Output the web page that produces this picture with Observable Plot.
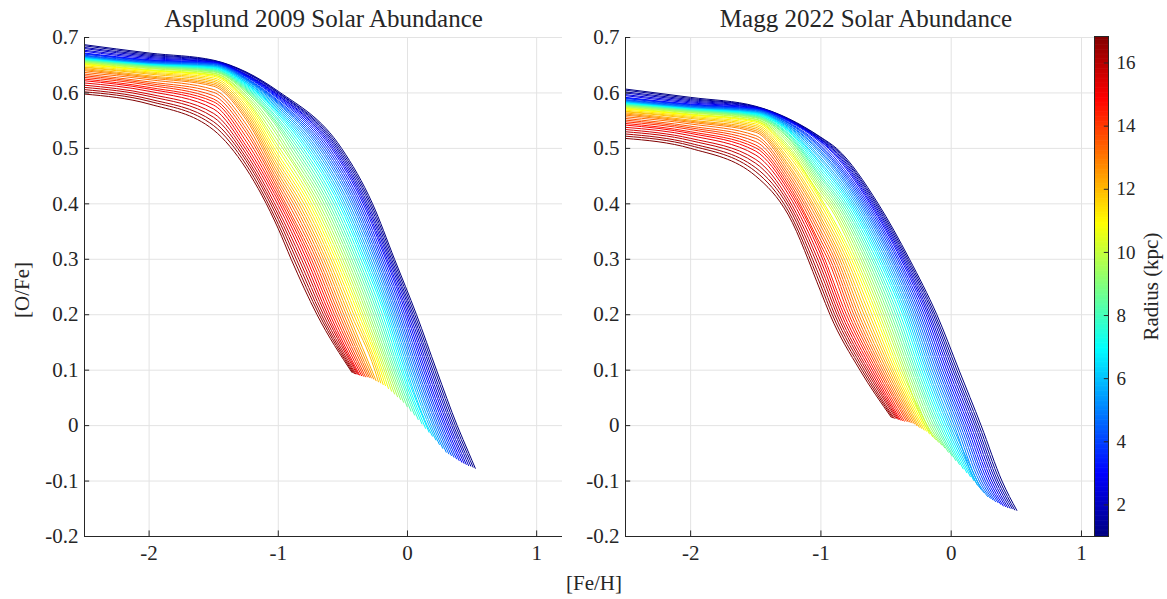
<!DOCTYPE html>
<html>
<head>
<meta charset="utf-8">
<script src="https://cdn.jsdelivr.net/npm/d3@7"></script>
<script src="https://cdn.jsdelivr.net/npm/@observablehq/plot@0.6"></script>
<style>
  body { margin: 0; background: #fff; }
  #wrap { position: relative; width: 1167px; height: 599px; overflow: hidden; font-family: "Liberation Serif", serif; color: #262626; }
  #wrap svg { position: absolute; top: 0; }
  #wrap svg text { font-family: "Liberation Serif", serif !important; }
  #xlab { position: absolute; left: 494px; width: 200px; top: 571px; text-align: center; font-size: 21px; font-family: "Liberation Serif", serif; }
</style>
</head>
<body>
<div id="wrap"><div id="xlab">[Fe/H]</div></div>
<script>
// ---------- data ----------
const radius = [1.00,1.33,1.66,1.99,2.32,2.65,2.98,3.31,3.64,3.97,4.30,4.63,4.96,5.29,5.62,5.95,6.28,6.61,6.94,7.27,7.60,7.93,8.26,8.59,8.92,9.25,9.58,9.91,10.24,10.57,10.90,11.23,11.56,11.89,12.22,12.55,12.88,13.21,13.54,13.87,14.20,14.53,14.86,15.19,15.52,15.85,16.18,16.51,16.84];

const xTicks = [-2, -1, 0, 1];
const yTicks = [-0.2, -0.1, 0, 0.1, 0.2, 0.3, 0.4, 0.5, 0.6, 0.7];
const cbTicks = [2, 4, 6, 8, 10, 12, 14, 16];
const titles = ["Asplund 2009 Solar Abundance", "Magg 2022 Solar Abundance"];

// Asplund 2009 panel: [O/Fe] at [Fe/H] = -2.5, -2, -1.5, -1.25, -1
const a09Y25 = [0.687,0.685,0.682,0.680,0.677,0.675,0.672,0.671,0.670,0.668,0.667,0.666,0.665,0.664,0.664,0.663,0.662,0.662,0.661,0.660,0.660,0.659,0.658,0.658,0.657,0.656,0.655,0.654,0.653,0.652,0.651,0.649,0.647,0.646,0.644,0.642,0.640,0.637,0.634,0.631,0.628,0.625,0.622,0.618,0.614,0.610,0.606,0.602,0.598];
const a09Y20 = [0.672,0.670,0.668,0.666,0.664,0.662,0.660,0.659,0.658,0.657,0.656,0.655,0.654,0.653,0.653,0.652,0.652,0.651,0.651,0.650,0.650,0.649,0.648,0.648,0.647,0.646,0.645,0.644,0.642,0.641,0.640,0.638,0.636,0.634,0.631,0.629,0.627,0.624,0.620,0.617,0.614,0.610,0.607,0.603,0.598,0.594,0.589,0.585,0.580];
const a09Y15 = [0.659,0.658,0.658,0.657,0.656,0.656,0.655,0.654,0.653,0.653,0.652,0.651,0.650,0.649,0.648,0.648,0.647,0.646,0.645,0.644,0.643,0.642,0.641,0.640,0.639,0.638,0.636,0.635,0.633,0.632,0.630,0.627,0.624,0.621,0.618,0.615,0.612,0.606,0.601,0.595,0.589,0.584,0.578,0.571,0.563,0.556,0.548,0.541,0.533];
const a09Y125 = [0.638,0.637,0.636,0.634,0.633,0.632,0.631,0.630,0.629,0.627,0.626,0.625,0.624,0.623,0.621,0.620,0.618,0.617,0.615,0.613,0.611,0.609,0.607,0.605,0.603,0.600,0.596,0.593,0.589,0.586,0.582,0.577,0.572,0.567,0.562,0.557,0.552,0.544,0.536,0.529,0.521,0.513,0.505,0.498,0.491,0.484,0.478,0.471,0.464];
const a09Y100 = [0.603,0.601,0.600,0.598,0.596,0.595,0.593,0.591,0.589,0.586,0.584,0.582,0.580,0.577,0.574,0.571,0.568,0.565,0.562,0.558,0.553,0.549,0.544,0.540,0.535,0.527,0.520,0.512,0.504,0.497,0.489,0.482,0.475,0.468,0.461,0.454,0.447,0.440,0.433,0.426,0.419,0.412,0.405,0.397,0.388,0.380,0.372,0.363,0.355];
// [Fe/H] where each track crosses [O/Fe] = 0.5, 0.4, 0.3, 0.2, 0.1, 0, -0.05
const a09X50 = [-0.510,-0.523,-0.536,-0.548,-0.561,-0.574,-0.587,-0.603,-0.619,-0.635,-0.651,-0.667,-0.683,-0.701,-0.718,-0.736,-0.753,-0.771,-0.788,-0.808,-0.827,-0.847,-0.867,-0.886,-0.906,-0.927,-0.947,-0.968,-0.988,-1.009,-1.029,-1.050,-1.071,-1.093,-1.114,-1.135,-1.156,-1.177,-1.199,-1.220,-1.241,-1.263,-1.284,-1.307,-1.329,-1.352,-1.375,-1.397,-1.420];
const a09X40 = [-0.270,-0.282,-0.294,-0.307,-0.319,-0.331,-0.343,-0.358,-0.373,-0.388,-0.403,-0.418,-0.433,-0.450,-0.466,-0.483,-0.499,-0.516,-0.532,-0.551,-0.569,-0.588,-0.607,-0.625,-0.644,-0.663,-0.683,-0.702,-0.721,-0.741,-0.760,-0.780,-0.800,-0.821,-0.841,-0.861,-0.881,-0.901,-0.921,-0.941,-0.961,-0.981,-1.001,-1.023,-1.044,-1.066,-1.087,-1.109,-1.130];
const a09X30 = [-0.100,-0.111,-0.123,-0.134,-0.145,-0.157,-0.168,-0.182,-0.196,-0.210,-0.224,-0.238,-0.252,-0.267,-0.283,-0.298,-0.313,-0.329,-0.344,-0.361,-0.379,-0.396,-0.413,-0.431,-0.448,-0.466,-0.484,-0.502,-0.520,-0.538,-0.556,-0.575,-0.593,-0.612,-0.631,-0.649,-0.668,-0.687,-0.705,-0.724,-0.743,-0.761,-0.780,-0.800,-0.820,-0.840,-0.860,-0.880,-0.900];
const a09X20 = [0.070,0.057,0.044,0.032,0.019,0.006,-0.007,-0.021,-0.035,-0.050,-0.064,-0.078,-0.092,-0.106,-0.120,-0.134,-0.148,-0.162,-0.176,-0.193,-0.210,-0.226,-0.243,-0.260,-0.277,-0.294,-0.310,-0.327,-0.344,-0.360,-0.377,-0.396,-0.415,-0.435,-0.454,-0.473,-0.492,-0.510,-0.528,-0.546,-0.564,-0.582,-0.600,-0.617,-0.633,-0.650,-0.667,-0.683,-0.700];
const a09X10 = [0.225,0.211,0.196,0.182,0.167,0.153,0.138,0.124,0.109,0.095,0.080,0.066,0.051,0.037,0.022,0.008,-0.007,-0.021,-0.036,-0.050,-0.065,-0.079,-0.094,-0.108,-0.123,-0.137,-0.151,-0.166,-0.180,-0.195,-0.209,-0.224,-0.238,-0.253,null,null,null,null,null,null,null,null,null,null,null,null,null,null,null];
const a09X00 = [0.385,0.371,0.356,0.342,0.327,0.313,0.298,0.284,0.269,0.255,0.240,0.226,0.211,0.197,0.182,0.168,0.153,null,null,null,null,null,null,null,null,null,null,null,null,null,null,null,null,null,null,null,null,null,null,null,null,null,null,null,null,null,null,null,null];
const a09Xm05 = [0.476,0.462,0.447,0.433,0.418,0.404,0.389,null,null,null,null,null,null,null,null,null,null,null,null,null,null,null,null,null,null,null,null,null,null,null,null,null,null,null,null,null,null,null,null,null,null,null,null,null,null,null,null,null,null];
// end point of every track
const a09EndX = [0.525,0.508,0.490,0.473,0.455,0.438,0.420,0.400,0.380,0.360,0.340,0.320,0.300,0.273,0.247,0.220,0.193,0.167,0.140,0.112,0.083,0.055,0.027,-0.002,-0.030,-0.053,-0.077,-0.100,-0.123,-0.147,-0.170,-0.188,-0.207,-0.225,-0.243,-0.262,-0.280,-0.295,-0.310,-0.325,-0.340,-0.355,-0.370,-0.380,-0.390,-0.400,-0.410,-0.420,-0.430];
const a09EndY = [-0.077,-0.075,-0.073,-0.072,-0.070,-0.068,-0.066,-0.063,-0.060,-0.057,-0.054,-0.051,-0.048,-0.041,-0.034,-0.026,-0.019,-0.012,-0.005,0.003,0.011,0.019,0.026,0.034,0.042,0.047,0.052,0.057,0.062,0.067,0.072,0.074,0.077,0.079,0.081,0.084,0.086,0.087,0.088,0.088,0.089,0.090,0.091,0.092,0.093,0.093,0.094,0.095,0.096];

// Magg 2022 panel
const m22Y25 = [0.607,0.605,0.602,0.600,0.597,0.595,0.592,0.591,0.590,0.588,0.587,0.586,0.585,0.584,0.584,0.583,0.582,0.582,0.581,0.580,0.580,0.579,0.578,0.578,0.577,0.576,0.575,0.574,0.573,0.572,0.571,0.569,0.567,0.566,0.564,0.562,0.560,0.557,0.554,0.551,0.548,0.545,0.542,0.538,0.534,0.530,0.526,0.522,0.518];
const m22Y20 = [0.592,0.590,0.588,0.586,0.584,0.582,0.580,0.579,0.578,0.577,0.576,0.575,0.574,0.573,0.573,0.572,0.572,0.571,0.571,0.570,0.570,0.569,0.568,0.568,0.567,0.566,0.565,0.564,0.562,0.561,0.560,0.558,0.556,0.554,0.551,0.549,0.547,0.544,0.540,0.537,0.534,0.530,0.527,0.523,0.518,0.514,0.509,0.505,0.500];
const m22Y15 = [0.576,0.575,0.575,0.574,0.573,0.573,0.572,0.571,0.570,0.570,0.569,0.568,0.567,0.566,0.565,0.565,0.564,0.563,0.562,0.561,0.560,0.559,0.558,0.557,0.556,0.555,0.553,0.552,0.550,0.549,0.547,0.544,0.541,0.538,0.535,0.532,0.529,0.523,0.518,0.512,0.506,0.501,0.495,0.488,0.480,0.473,0.465,0.458,0.450];
const m22Y125 = [0.554,0.553,0.553,0.552,0.551,0.551,0.550,0.549,0.547,0.546,0.545,0.543,0.542,0.540,0.539,0.537,0.535,0.534,0.532,0.530,0.527,0.525,0.523,0.520,0.518,0.514,0.510,0.505,0.501,0.497,0.493,0.488,0.482,0.477,0.471,0.466,0.460,0.454,0.448,0.442,0.436,0.430,0.424,0.417,0.409,0.402,0.395,0.387,0.380];
const m22Y100 = [0.520,0.519,0.517,0.516,0.515,0.513,0.512,0.509,0.505,0.502,0.499,0.495,0.492,0.488,0.483,0.479,0.474,0.470,0.465,0.460,0.455,0.450,0.446,0.441,0.436,0.431,0.426,0.421,0.415,0.410,0.405,0.398,0.390,0.383,0.375,0.368,0.360,0.351,0.343,0.334,0.325,0.317,0.308,0.297,0.286,0.275,0.263,0.252,0.241];
// [Fe/H] where each track crosses [O/Fe] = 0.5, 0.4, 0.3, 0.2, 0.1, 0, -0.1
const m22X50 = [-0.880,-0.891,-0.901,-0.912,-0.922,-0.933,-0.943,-0.957,-0.970,-0.984,-0.998,-1.011,-1.025,-1.040,-1.055,-1.070,-1.085,-1.100,-1.115,-1.131,-1.147,-1.164,-1.180,-1.196,-1.212,-1.229,-1.246,-1.263,-1.280,-1.297,-1.314,-1.332,-1.349,-1.367,-1.385,-1.402,-1.420,null,null,null,null,null,null,null,null,null,null,null,null];
const m22X40 = [-0.560,-0.571,-0.581,-0.592,-0.602,-0.613,-0.623,-0.636,-0.649,-0.662,-0.675,-0.688,-0.701,-0.715,-0.729,-0.744,-0.758,-0.772,-0.786,-0.802,-0.818,-0.834,-0.850,-0.866,-0.882,-0.899,-0.915,-0.932,-0.949,-0.965,-0.982,-0.999,-1.016,-1.033,-1.051,-1.068,-1.085,-1.102,-1.120,-1.137,-1.154,-1.172,-1.189,-1.208,-1.226,-1.245,-1.263,-1.282,-1.300];
const m22X30 = [-0.320,-0.331,-0.342,-0.353,-0.364,-0.375,-0.386,-0.400,-0.413,-0.427,-0.441,-0.454,-0.468,-0.483,-0.498,-0.513,-0.528,-0.543,-0.558,-0.575,-0.592,-0.608,-0.625,-0.642,-0.659,-0.677,-0.694,-0.712,-0.730,-0.747,-0.765,-0.783,-0.801,-0.820,-0.838,-0.856,-0.874,-0.892,-0.910,-0.929,-0.947,-0.965,-0.983,-1.003,-1.022,-1.042,-1.061,-1.081,-1.100];
const m22X20 = [-0.110,-0.124,-0.137,-0.151,-0.165,-0.178,-0.192,-0.207,-0.222,-0.237,-0.252,-0.267,-0.282,-0.297,-0.312,-0.327,-0.342,-0.357,-0.372,-0.390,-0.408,-0.425,-0.443,-0.461,-0.479,-0.497,-0.515,-0.532,-0.550,-0.568,-0.586,-0.607,-0.627,-0.648,-0.668,-0.689,-0.709,-0.728,-0.747,-0.766,-0.785,-0.804,-0.823,-0.841,-0.859,-0.876,-0.894,-0.912,-0.930];
const m22X10 = [0.060,0.044,0.028,0.013,-0.003,-0.019,-0.035,-0.051,-0.067,-0.083,-0.098,-0.114,-0.130,-0.146,-0.162,-0.178,-0.193,-0.209,-0.225,-0.241,-0.257,-0.273,-0.288,-0.304,-0.320,-0.336,-0.352,-0.367,-0.383,-0.399,-0.415,-0.431,-0.447,-0.462,-0.478,-0.494,-0.510,-0.526,-0.542,-0.557,-0.573,-0.589,-0.605,-0.621,-0.637,-0.652,-0.668,-0.684,-0.700];
const m22X00 = [0.230,0.214,0.198,0.183,0.167,0.151,0.135,0.119,0.103,0.088,0.072,0.056,0.040,0.024,0.008,-0.008,-0.023,-0.039,-0.055,-0.071,-0.087,-0.103,-0.118,-0.134,-0.150,-0.166,-0.182,-0.198,null,null,null,null,null,null,null,null,null,null,null,null,null,null,null,null,null,null,null,null,null];
const m22Xm10 = [0.390,0.374,0.358,0.343,0.327,0.311,0.295,0.279,0.263,0.248,0.232,0.216,0.200,0.184,null,null,null,null,null,null,null,null,null,null,null,null,null,null,null,null,null,null,null,null,null,null,null,null,null,null,null,null,null,null,null,null,null,null,null];
const m22EndX = [0.504,0.487,0.469,0.452,0.435,0.417,0.400,0.380,0.360,0.340,0.320,0.300,0.280,0.253,0.227,0.200,0.173,0.147,0.120,0.092,0.063,0.035,0.007,-0.022,-0.050,-0.073,-0.097,-0.120,-0.143,-0.167,-0.190,-0.208,-0.227,-0.245,-0.263,-0.282,-0.300,-0.315,-0.330,-0.345,-0.360,-0.375,-0.390,-0.402,-0.413,-0.425,-0.437,-0.448,-0.460];
const m22EndY = [-0.153,-0.152,-0.150,-0.149,-0.148,-0.146,-0.145,-0.142,-0.139,-0.137,-0.134,-0.131,-0.128,-0.121,-0.114,-0.107,-0.099,-0.092,-0.085,-0.078,-0.070,-0.063,-0.055,-0.048,-0.040,-0.035,-0.030,-0.025,-0.020,-0.015,-0.010,-0.008,-0.005,-0.003,0.000,0.003,0.005,0.006,0.007,0.008,0.008,0.009,0.010,0.011,0.012,0.013,0.013,0.014,0.015];

// ---------- assemble tracks from the arrays ----------
function tracks(y25, y20, y15, y125, y100, levels, endX, endY) {
  const out = [];
  radius.forEach((r, i) => {
    const seq = [[-2.5, y25[i]], [-2, y20[i]], [-1.5, y15[i]], [-1.25, y125[i]], [-1, y100[i]]];
    for (const [lev, arr] of levels) {
      const x = arr[i];
      if (x != null && x > -0.96 && lev < y100[i] - 0.01) seq.push([x, lev]);
    }
    seq.push([endX[i], endY[i]]);
    for (const [x, y] of seq) out.push({x, y, r, line: i});
  });
  return out;
}
const a09 = tracks(a09Y25, a09Y20, a09Y15, a09Y125, a09Y100,
  [[0.5, a09X50], [0.4, a09X40], [0.3, a09X30], [0.2, a09X20], [0.1, a09X10], [0, a09X00], [-0.05, a09Xm05]],
  a09EndX, a09EndY);
const m22 = tracks(m22Y25, m22Y20, m22Y15, m22Y125, m22Y100,
  [[0.5, m22X50], [0.4, m22X40], [0.3, m22X30], [0.2, m22X20], [0.1, m22X10], [0, m22X00], [-0.1, m22Xm10]],
  m22EndX, m22EndY);

// ---------- jet colour scale ----------
const rMin = radius[0], rMax = radius[radius.length - 1];
const jetStops = [0, 0.125, 0.375, 0.625, 0.875, 1];
const jetColors = ["#000080", "#0000ff", "#00ffff", "#ffff00", "#ff0000", "#800000"];
const colorScale = {type: "linear", domain: jetStops.map(s => rMin + s * (rMax - rMin)), range: jetColors, interpolate: "rgb"};

const AX = "#262626", GRID = "#e3e3e3";
const FONT = '"Liberation Serif", serif';
const fmt = d => String(d);
const baseStyle = {fontFamily: FONT, fontSize: "21px", color: AX, background: "transparent", overflow: "visible"};

function panel(data, title, xDomain, width, mL, mR, showYLabel, titleDx) {
  const marks = [
    Plot.gridX(xTicks, {stroke: GRID, strokeOpacity: 1}),
    Plot.gridY(yTicks, {stroke: GRID, strokeOpacity: 1}),
    Plot.line(data, {x: "x", y: "y", z: "line", stroke: "r", curve: "monotone-x", strokeWidth: 1, clip: true}),
    Plot.ruleX([xDomain[0]], {stroke: AX, strokeWidth: 1}),
    Plot.ruleY([-0.2], {stroke: AX, strokeWidth: 1}),
    Plot.ruleX(xTicks, {y1: -0.2, y2: -0.19, stroke: AX}),
    Plot.ruleY(yTicks, {x1: xDomain[0], x2: xDomain[0] + 0.04, stroke: AX}),
    Plot.axisX(xTicks, {tickSize: 0, tickPadding: 9, tickFormat: fmt, fontSize: 21, fontFamily: FONT, label: null}),
    Plot.axisY(yTicks, {tickSize: 0, tickPadding: 6, tickFormat: fmt, fontSize: 21, fontFamily: FONT, label: null}),
    Plot.text([title], {text: d => d, frameAnchor: "top", dy: -28, dx: titleDx, fontSize: 25, fontFamily: FONT})
  ];
  if (showYLabel) marks.push(Plot.text(["[O/Fe]"], {text: d => d, frameAnchor: "left", textAnchor: "middle", rotate: -90, dx: -62, dy: 3, fontSize: 21, fontFamily: FONT}));
  return Plot.plot({
    width, height: 599, marginLeft: mL, marginRight: mR, marginTop: 37, marginBottom: 63,
    style: baseStyle,
    x: {domain: xDomain},
    y: {domain: [-0.2, 0.7]},
    color: colorScale,
    marks
  });
}

const wrap = document.getElementById("wrap");
const left = panel(a09, titles[0], [-2.5, 1.2], 575, 84, 13, true, 0);
left.style.left = "0px";
wrap.appendChild(left);

const right = panel(m22, titles[1], [-2.5, 1.1], 530, 45, 16, false, 6);
right.style.left = "580px";
wrap.appendChild(right);

// colorbar
const cbStep = 0.04;
const cbCells = d3.range(rMin, rMax, cbStep);
const cb = Plot.plot({
  width: 82, height: 599, marginLeft: 9, marginRight: 59, marginTop: 36, marginBottom: 63,
  style: baseStyle,
  x: {domain: [0, 1], axis: null},
  y: {domain: [rMin, rMax], axis: null},
  color: colorScale,
  marks: [
    Plot.rect(cbCells, {x1: 0, x2: 1, y1: d => d, y2: d => Math.min(d + cbStep * 1.5, rMax), fill: d => d + cbStep / 2}),
    Plot.ruleY(cbTicks, {x1: 0.7, x2: 1, stroke: AX}),
    Plot.frame({stroke: AX, strokeWidth: 1}),
    Plot.axisY(cbTicks, {anchor: "right", tickSize: 0, tickPadding: 8, tickFormat: fmt, fontSize: 19, fontFamily: FONT, label: null}),
    Plot.text(["Radius (kpc)"], {text: d => d, frameAnchor: "right", textAnchor: "middle", rotate: -90, dx: 43, fontSize: 21, fontFamily: FONT})
  ]
});
cb.style.left = "1085px";
wrap.appendChild(cb);

// make sure every label uses the serif face
d3.selectAll("#wrap svg text").style("font-family", FONT);
</script>
</body>
</html>
